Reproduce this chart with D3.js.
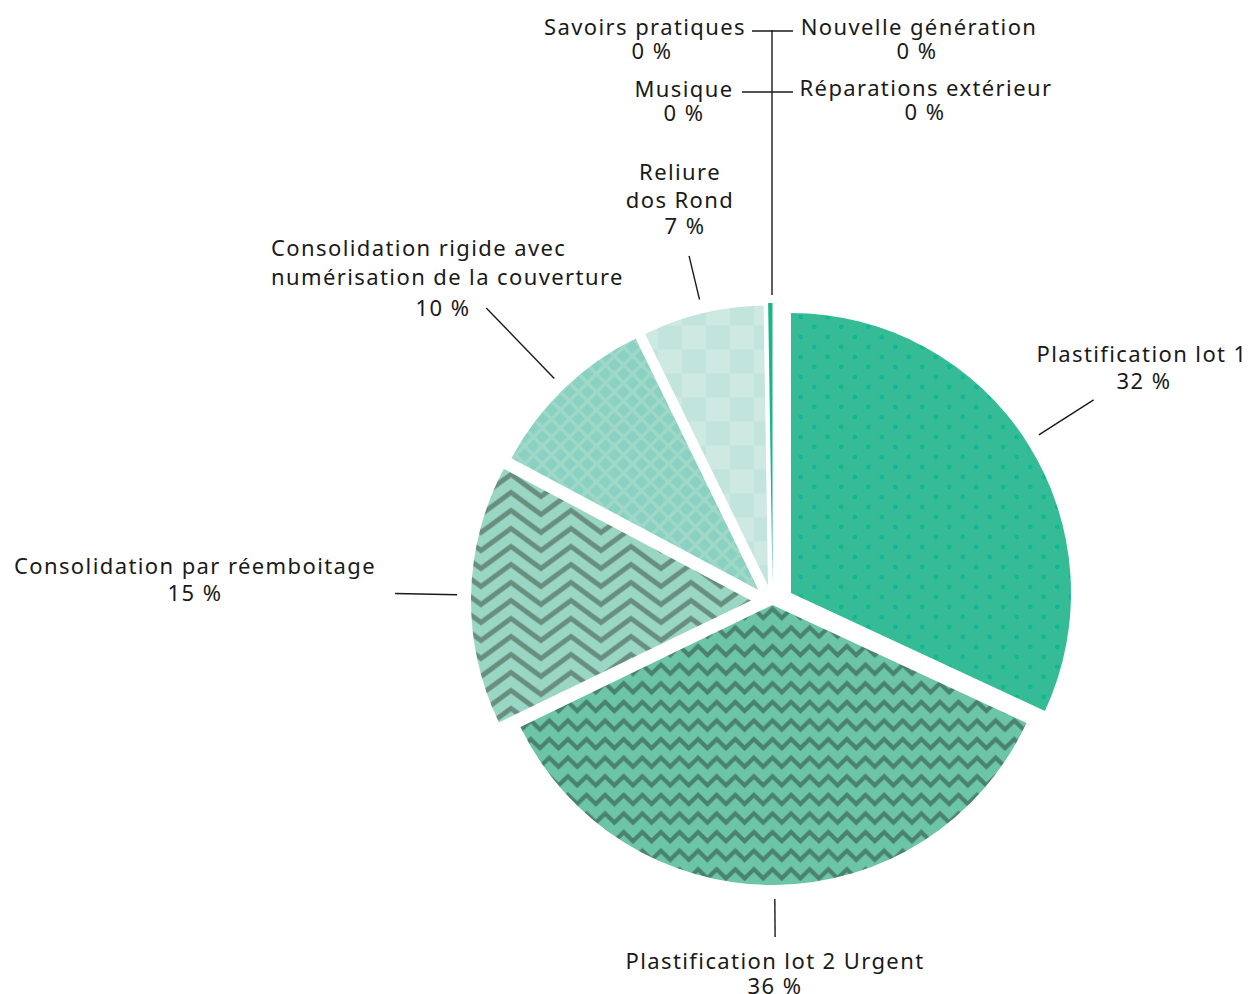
<!DOCTYPE html>
<html><head><meta charset="utf-8">
<script src="https://cdn.jsdelivr.net/npm/d3@7"></script>
<style>body{margin:0;background:#fff}svg{display:block}</style>
</head><body><svg id="c" width="1248" height="994"></svg>
<script>
// ---- data ----
const categories = ["Plastification lot 1","Plastification lot 2 Urgent","Consolidation par réemboitage","Consolidation rigide avec numérisation de la couverture","Reliure dos Rond","Musique","Savoirs pratiques","Réparations extérieur","Nouvelle génération"];
const values = [32, 36, 15, 10, 7, 0, 0, 0, 0.25];
const labelLines = [["Plastification lot 1"],["Plastification lot 2 Urgent"],["Consolidation par réemboitage"],["Consolidation rigide avec","numérisation de la couverture"],["Reliure","dos Rond"],["Musique"],["Savoirs pratiques"],["Réparations extérieur"],["Nouvelle génération"]];

// ---- layout / style ----
const cx = 772.5, cy = 605, R = 280;
// slice explode offsets (dx, dy)
const explode = [[18.5,-12],[0,0],[-21.5,-4.5],[-14,-15],[-4.5,-19.5],[0,-22],[0,-22],[0,-22],[0,-22]];
const fills = ["url(#pDots)","url(#pZig)","url(#pChev)","url(#pLat)","url(#pChk)","#1ab687","#1ab687","#1ab687","#1ab687"];
const leaderEnd = [359, 332, 356, 392, 339];
// text placement: [x, baseline y, anchor] for each text line, then percentage line
const textPos = [
  {lines:[[1142,362,"middle"]], pct:[1144,389,"middle"]},
  {lines:[[775,969,"middle"]], pct:[775,994,"middle"]},
  {lines:[[195,574,"middle"]], pct:[195,601,"middle"]},
  {lines:[[271,256,"start"],[271,285,"start"]], pct:[443,316,"middle"]},
  {lines:[[680,180,"middle"],[680,208,"middle"]], pct:[685,234,"middle"]},
  {lines:[[684,97,"middle"]], pct:[684,121,"middle"]},
  {lines:[[645,35,"middle"]], pct:[652,59,"middle"]},
  {lines:[[926,96,"middle"]], pct:[925,120,"middle"]},
  {lines:[[919,35,"middle"]], pct:[917,59,"middle"]}
];

const svg = d3.select("#c");
const defs = svg.append("defs");

// dots pattern
let p = defs.append("pattern").attr("id","pDots").attr("patternUnits","userSpaceOnUse").attr("width",27).attr("height",20).attr("x",3).attr("y",0);
p.append("rect").attr("width",27).attr("height",20).attr("fill","#35bc96");
[[6.75,4],[20.25,14]].forEach(c=>p.append("circle").attr("cx",c[0]).attr("cy",c[1]).attr("r",2.4).attr("fill","#12b894"));

// zigzag pattern
const Z = 18.6;
p = defs.append("pattern").attr("id","pZig").attr("patternUnits","userSpaceOnUse").attr("width",Z).attr("height",Z);
p.append("rect").attr("width",Z).attr("height",Z).attr("fill","#6cc5a7");
let dz = "";
for (const o of [-Z,0,Z]) { dz += `M${-Z/2},${o+13}L0,${o+4}L${Z/2},${o+13}L${Z},${o+4}L${1.5*Z},${o+13}`; }
p.append("path").attr("d",dz).attr("fill","none").attr("stroke","#4a8270").attr("stroke-width",4.2);

// chevron pattern
p = defs.append("pattern").attr("id","pChev").attr("patternUnits","userSpaceOnUse").attr("width",60).attr("height",18).attr("x",0).attr("y",0);
p.append("rect").attr("width",60).attr("height",18).attr("fill","#99d7c4");
let dc = "";
for (let k=-3;k<=3;k++){ const o=k*18; dc += `M-30,${o+22}L0,${o}L30,${o+22}L60,${o}L90,${o+22}`; }
p.append("path").attr("d",dc).attr("fill","none").attr("stroke","#688e80").attr("stroke-width",5);

// lattice pattern
const L = 18;
p = defs.append("pattern").attr("id","pLat").attr("patternUnits","userSpaceOnUse").attr("width",L).attr("height",L);
p.append("rect").attr("width",L).attr("height",L).attr("fill","#89d1c3");
let dl = "";
for (const k of [-L,0,L]) { dl += `M${k},0L${k+L},${L}M${k+L},0L${k},${L}`; }
p.append("path").attr("d",dl).attr("stroke","#9fd8c7").attr("stroke-width",3.5);

// checker pattern
p = defs.append("pattern").attr("id","pChk").attr("patternUnits","userSpaceOnUse").attr("width",48).attr("height",48).attr("x",10).attr("y",4);
p.append("rect").attr("width",48).attr("height",48).attr("fill","#cde9e2");
p.append("rect").attr("width",24).attr("height",24).attr("fill","#c1e4dc");
p.append("rect").attr("x",24).attr("y",24).attr("width",24).attr("height",24).attr("fill","#c1e4dc");

// ---- pie ----
const pie = d3.pie().sort(null).value(d=>d)(values);
const arc = d3.arc().innerRadius(0).outerRadius(R);
const total = d3.sum(values);
const vert = pie.map((d,i)=>{ const m=(d.startAngle+d.endAngle)/2; return [cx+explode[i][0], cy+explode[i][1], m]; });

svg.append("g").selectAll("path").data(pie).join("path")
  .attr("transform",(d,i)=>`translate(${vert[i][0]},${vert[i][1]})`)
  .attr("d",arc).attr("fill",(d,i)=>fills[i]);

// ---- leaders ----
const lg = svg.append("g").attr("stroke","#1a1a1a").attr("stroke-width",1.4).attr("fill","none");
for (let i=0;i<5;i++){
  const [vx,vy,m] = vert[i];
  lg.append("line").attr("x1",vx+(R+14)*Math.sin(m)).attr("y1",vy-(R+14)*Math.cos(m))
    .attr("x2",vx+leaderEnd[i]*Math.sin(m)).attr("y2",vy-leaderEnd[i]*Math.cos(m));
}
// zero-value group at top
const tx = vert[8][0]-0.5, ty = vert[8][1]-R-8;
lg.append("line").attr("x1",tx).attr("y1",30).attr("x2",tx).attr("y2",ty);
lg.append("line").attr("x1",752).attr("y1",31).attr("x2",793).attr("y2",31);
lg.append("line").attr("x1",742).attr("y1",92).attr("x2",793).attr("y2",92);

// ---- labels ----
const tg = svg.append("g").attr("font-family","'Noto Sans', sans-serif").attr("font-size",22).attr("letter-spacing","1.4px").attr("fill","#1a1a1a");
categories.forEach((c,i)=>{
  const tp = textPos[i];
  labelLines[i].forEach((ln,j)=>{
    tg.append("text").attr("x",tp.lines[j][0]).attr("y",tp.lines[j][1]).attr("text-anchor",tp.lines[j][2]).text(ln);
  });
  tg.append("text").attr("x",tp.pct[0]).attr("y",tp.pct[1]).attr("text-anchor",tp.pct[2]).text(Math.round(values[i]/total*100)+" %");
});
</script></body></html>
